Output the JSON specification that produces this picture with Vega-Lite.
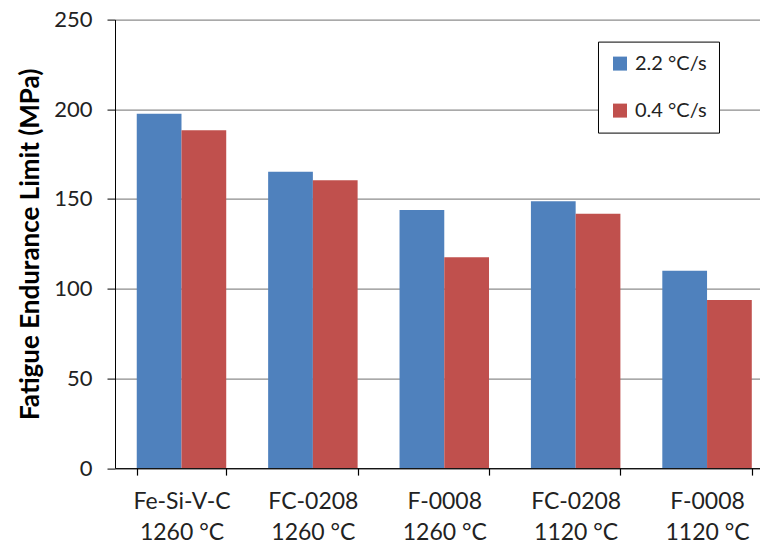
{
  "$schema": "https://vega.github.io/schema/vega-lite/v6.json",
  "width": 645,
  "height": 448.5,
  "autosize": {"type": "none"},
  "padding": {"left": 115, "top": 19.6, "right": 0, "bottom": 78},
  "background": "white",
  "config": {
    "view": {"stroke": null},
    "font": "Lato"
  },
  "data": {
    "values": [
      {"alloy": "Fe-Si-V-C|1260 °C", "rate": "2.2 °C/s", "limit": 197.5},
      {"alloy": "Fe-Si-V-C|1260 °C", "rate": "0.4 °C/s", "limit": 188.3},
      {"alloy": "FC-0208|1260 °C", "rate": "2.2 °C/s", "limit": 165.2},
      {"alloy": "FC-0208|1260 °C", "rate": "0.4 °C/s", "limit": 160.4},
      {"alloy": "F-0008|1260 °C", "rate": "2.2 °C/s", "limit": 143.8},
      {"alloy": "F-0008|1260 °C", "rate": "0.4 °C/s", "limit": 117.5},
      {"alloy": "FC-0208|1120 °C", "rate": "2.2 °C/s", "limit": 148.8},
      {"alloy": "FC-0208|1120 °C", "rate": "0.4 °C/s", "limit": 141.8},
      {"alloy": "F-0008|1120 °C", "rate": "2.2 °C/s", "limit": 110.0},
      {"alloy": "F-0008|1120 °C", "rate": "0.4 °C/s", "limit": 93.7}
    ]
  },
  "mark": {"type": "bar"},
  "encoding": {
    "x": {
      "field": "alloy",
      "type": "nominal",
      "sort": null,
      "scale": {"paddingInner": 0.319, "paddingOuter": 0.114, "align": 0.726},
      "axis": {
        "title": null,
        "labelAngle": 0,
        "labelExpr": "isValid(datum.value) ? split(datum.value, '|') : ''",
        "labelFont": "Lato",
        "labelFontSize": 23,
        "labelColor": "#222222",
        "labelLineHeight": 31,
        "labelPadding": 15,
        "tickBand": "extent",
        "tickSize": 7,
        "tickWidth": 1.2,
        "tickColor": "black",
        "domainColor": "black",
        "grid": false
      }
    },
    "xOffset": {
      "field": "rate",
      "type": "nominal",
      "sort": ["2.2 °C/s", "0.4 °C/s"],
      "scale": {"paddingInner": 0, "paddingOuter": 0}
    },
    "y": {
      "field": "limit",
      "type": "quantitative",
      "scale": {"domain": [0, 250], "nice": false},
      "axis": {
        "title": "Fatigue Endurance Limit (MPa)",
        "titleFont": "Lato",
        "titleFontSize": 26,
        "titleFontWeight": "bold",
        "titleColor": "black",
        "titlePadding": 10,
        "values": [0, 50, 100, 150, 200, 250],
        "labelFont": "Lato",
        "labelFontSize": 22,
        "labelColor": "#222222",
        "labelPadding": 15,
        "tickSize": 8,
        "tickColor": "black",
        "domainColor": "black",
        "gridColor": "#8c8c8c",
        "gridWidth": 1.2
      }
    },
    "color": {
      "field": "rate",
      "type": "nominal",
      "sort": ["2.2 °C/s", "0.4 °C/s"],
      "scale": {"domain": ["2.2 °C/s", "0.4 °C/s"], "range": ["#4F81BD", "#C0504D"]},
      "legend": {
        "title": null,
        "orient": "none",
        "legendX": 483,
        "legendY": 22,
        "direction": "vertical",
        "symbolType": "square",
        "symbolSize": 196,
        "symbolStrokeWidth": 0,
        "labelFont": "Lato",
        "labelFontSize": 20,
        "labelColor": "#222222",
        "labelOffset": 5,
        "rowPadding": 27,
        "padding": 12,
        "strokeColor": "black",
        "fillColor": "white"
      }
    }
  }
}
